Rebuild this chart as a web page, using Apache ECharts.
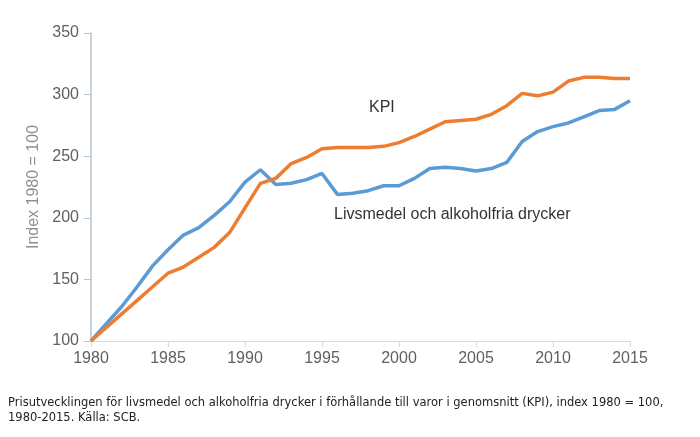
<!DOCTYPE html>
<html><head><meta charset="utf-8">
<script src="https://cdn.jsdelivr.net/npm/echarts@6/dist/echarts.min.js"></script>
<style>html,body{margin:0;padding:0;background:#fff}#c{width:700px;height:437px}</style>
</head><body><div id="c"></div>
<script>
const years = [1980,1981,1982,1983,1984,1985,1986,1987,1988,1989,1990,1991,1992,1993,1994,1995,1996,1997,1998,1999,2000,2001,2002,2003,2004,2005,2006,2007,2008,2009,2010,2011,2012,2013,2014,2015];
const livsmedel = [100,114,128,144,161,174,186,192,202,213,229,239,227,228,231,236,219,220,222,226,226,232,240,241,240,238,240,245,262,270,274,277,282,287,288,295];
const kpi = [100,111,122,133,144,155,160,168,176,188,208,228,232,244,249,256,257,257,257,258,261,266,272,278,279,280,284,291,301,299,302,311,314,314,313,313];
const yTicks = [100,150,200,250,300,350];
const xTicks = [1980,1985,1990,1995,2000,2005,2010,2015];
const labelKPI = 'KPI';
const labelLivs = 'Livsmedel och alkoholfria drycker';
const yName = 'Index 1980 = 100';
const caption1 = 'Prisutvecklingen för livsmedel och alkoholfria drycker i förhållande till varor i genomsnitt (KPI), index 1980 = 100,';
const caption2 = '1980-2015. Källa: SCB.';

const chart = echarts.init(document.getElementById('c'), null, {renderer:'canvas'});
const pair = arr => years.map((y,i)=>[y,arr[i]]);
chart.setOption({
  animation:false,
  grid:{left:91,right:70,top:33,bottom:96},
  xAxis:{type:'value',min:xTicks[0],max:xTicks[xTicks.length-1],interval:5,
    axisLine:{lineStyle:{color:'#d9d9d9',width:1}},
    axisTick:{show:true,length:6,lineStyle:{color:'#d9d9d9'}},
    splitLine:{show:false},
    axisLabel:{color:'#606060',fontSize:16,fontFamily:'Liberation Sans',margin:10,formatter:v=>String(v)}},
  yAxis:{type:'value',min:yTicks[0],max:yTicks[yTicks.length-1],interval:50,
    name:yName,nameLocation:'middle',nameRotate:90,nameGap:42,
    nameTextStyle:{color:'#8f8f8f',fontSize:16,fontFamily:'Liberation Sans'},
    axisLine:{show:true,lineStyle:{color:'#b7c4d3',width:1.5}},
    axisTick:{show:true,length:7,lineStyle:{color:'#b7c4d3'}},
    splitLine:{show:false},
    axisLabel:{color:'#606060',fontSize:16,fontFamily:'Liberation Sans',margin:12}},
  series:[
    {name:labelLivs,type:'line',data:pair(livsmedel),showSymbol:false,symbol:'none',
      lineStyle:{color:'#5b9bd5',width:3.5},itemStyle:{color:'#5b9bd5'},z:2},
    {name:labelKPI,type:'line',data:pair(kpi),showSymbol:false,symbol:'none',
      lineStyle:{color:'#ed7d31',width:3.5},itemStyle:{color:'#ed7d31'},z:3}
  ],
  graphic:[
    {type:'text',left:369,top:100,style:{text:labelKPI,fill:'#333',font:'16px "Liberation Sans"'}},
    {type:'text',left:334,top:207,style:{text:labelLivs,fill:'#333',font:'16px "Liberation Sans"'}},
    {type:'text',left:8,top:397,style:{text:caption1,fill:'#222',font:'11.5px "DejaVu Sans"'}},
    {type:'text',left:8,top:412,style:{text:caption2,fill:'#222',font:'11.5px "DejaVu Sans"'}}
  ]
});
</script></body></html>
